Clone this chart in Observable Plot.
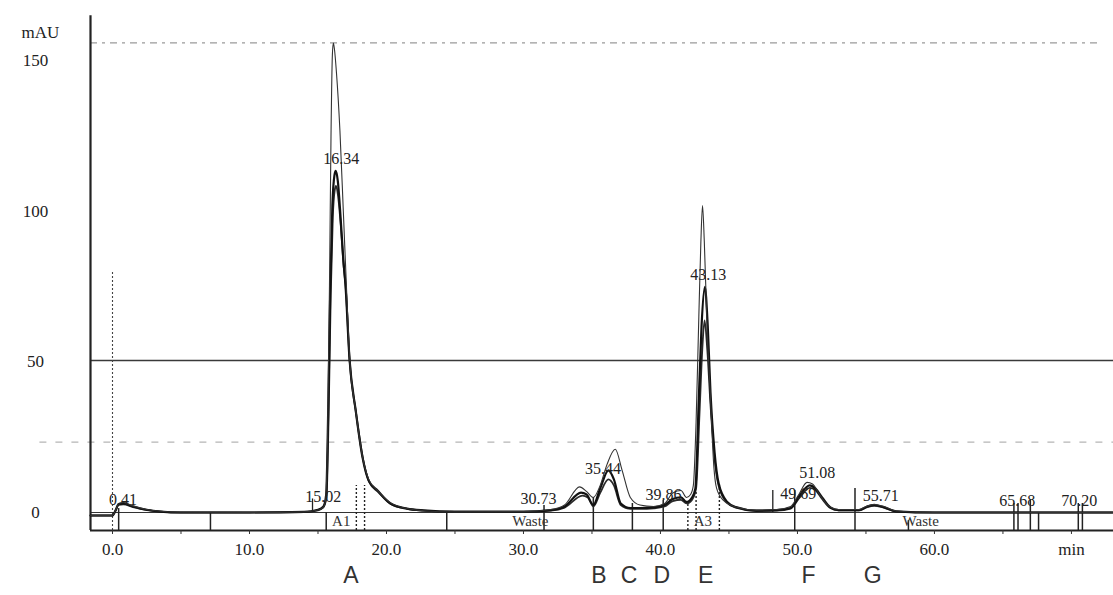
<!DOCTYPE html>
<html>
<head>
<meta charset="utf-8">
<script src="https://cdn.jsdelivr.net/npm/d3@7"></script>
<script src="https://cdn.jsdelivr.net/npm/@observablehq/plot@0.6"></script>
<style>
  html, body { margin: 0; padding: 0; background: #fff; }
  #chart svg { display: block; overflow: visible; }
</style>
</head>
<body>
<div id="chart"></div>
<script>
// Time axis (min) and absorbance axis (mAU)
const timeDomain = [-1.606, 73.07];
const mauDomain = [-5.98, 170.1];
const timeTicks = [0, 10, 20, 30, 40, 50, 60, 70];
const timeTickLabels = ["0.0", "10.0", "20.0", "30.0", "40.0", "50.0", "60.0", "min"];
const minorTimeTicks = [0, 5, 10, 15, 20, 25, 30, 35, 40, 45, 50, 55, 60, 65, 70];
const mauTicks = [0, 50, 100, 150];

// Detector traces: [time (min), absorbance (mAU)]
const traceThin = [
  [-1.6, -1], [0, -1], [0.2, 0.5], [0.45, 3], [0.8, 3.3], [1.5, 2.2], [2.5, 1], [3.5, 0.4], [5, 0.1],
  [10, 0], [14, 0.2], [15, 0.8], [15.4, 1.8], [15.55, 4], [15.7, 25], [15.85, 80], [15.95, 125],
  [16.05, 152], [16.12, 156], [16.2, 154], [16.35, 146], [16.6, 127], [16.85, 100], [17.05, 78],
  [17.3, 52], [17.75, 34], [18.25, 18.5], [18.7, 11], [19.3, 7.5], [20.3, 3.2], [21.5, 1.3],
  [22.7, 0.6], [25, 0.2], [30, 0.3], [32, 1], [33, 2.5], [34.1, 8.5], [34.6, 7], [35.1, 5],
  [35.6, 9], [36.1, 16], [36.7, 21], [37.2, 14], [37.8, 5], [38.5, 2.5], [39.5, 2], [40.3, 3],
  [40.9, 6.5], [41.5, 7.3], [41.9, 5], [42.2, 6], [42.4, 9], [42.6, 30], [42.8, 65], [42.95, 90],
  [43.07, 102], [43.2, 90], [43.4, 62], [43.65, 38], [43.9, 15], [44.1, 8], [44.6, 4], [45.5, 1.8],
  [47, 0.8], [48.5, 1], [49.5, 2], [50.1, 6], [50.7, 10], [51.1, 9.5], [51.6, 6], [52.2, 2.5],
  [53, 1], [54.5, 1], [55, 2], [55.6, 2.7], [56.3, 2], [57.2, 0.5], [60, 0], [73, 0]
];
const traceBold = [
  [-1.6, -1], [0, -1], [0.2, 0.5], [0.45, 2.8], [0.8, 3], [1.5, 2], [2.5, 0.9], [3.5, 0.3], [5, 0],
  [10, 0], [14, 0.2], [15, 0.9], [15.4, 2], [15.6, 6], [15.75, 35], [15.9, 75], [16.05, 102],
  [16.2, 112], [16.3, 113.5], [16.45, 110], [16.65, 98], [16.85, 84], [17, 76], [17.3, 51],
  [17.75, 34], [18.25, 18.3], [18.7, 10.6], [19.35, 7.3], [20.3, 3], [21.5, 1.3], [22.7, 0.7],
  [25, 0.3], [30, 0.3], [32, 0.8], [33, 2], [34.2, 6.6], [34.6, 6], [35.1, 2.5], [35.6, 8],
  [36.2, 14], [36.6, 11], [37.1, 3], [37.8, 1.5], [38.5, 1.5], [39.5, 1.7], [40.3, 2.5],
  [40.9, 4.5], [41.5, 5], [41.9, 3.5], [42.3, 5], [42.55, 8], [42.8, 38], [43, 62], [43.24, 75],
  [43.45, 62], [43.65, 40], [43.95, 20], [44.25, 9.6], [44.87, 3.5], [45.5, 1.8], [47, 0.6],
  [48.5, 0.8], [49.5, 1.5], [50.2, 6], [50.9, 9], [51.3, 8], [51.8, 5], [52.4, 1.7], [53, 0.8],
  [54.5, 0.8], [55.1, 2], [55.6, 2.5], [56.3, 1.8], [57.2, 0.4], [60, 0], [73, 0]
];
const traceMid = [
  [-1.6, -1], [0, -1], [0.2, 0.4], [0.45, 2.5], [0.8, 2.7], [1.5, 1.8], [2.5, 0.8], [3.5, 0.3], [5, 0],
  [10, 0], [14, 0.1], [15, 0.7], [15.4, 1.8], [15.62, 5], [15.78, 33], [15.93, 72], [16.08, 98],
  [16.22, 107], [16.32, 108.5], [16.47, 105], [16.67, 95], [16.87, 82], [17.02, 75], [17.32, 50],
  [17.78, 33], [18.3, 17.5], [18.75, 10], [19.4, 6.8], [20.3, 2.8], [21.5, 1.2], [22.7, 0.6],
  [25, 0.2], [30, 0.2], [32, 0.6], [33, 1.6], [34.3, 5.6], [34.7, 5], [35.1, 2], [35.6, 6.5],
  [36.2, 11], [36.6, 9], [37.1, 2.5], [37.8, 1.2], [38.5, 1.2], [39.5, 1.4], [40.3, 2],
  [40.9, 3.8], [41.5, 4.2], [41.9, 3], [42.3, 4.2], [42.6, 8], [42.85, 33], [43.05, 54], [43.22, 63.8],
  [43.42, 54], [43.65, 36], [43.95, 18], [44.25, 8.8], [44.87, 3.2], [45.5, 1.6], [47, 0.5],
  [48.5, 0.6], [49.5, 1.3], [50.2, 5.2], [50.9, 8.2], [51.3, 7.5], [51.8, 4.5], [52.4, 1.5], [53, 0.7],
  [54.5, 0.7], [55.1, 1.8], [55.6, 2.2], [56.3, 1.6], [57.2, 0.3], [60, 0], [73, 0]
];

// Reference levels (mAU)
const upperLevel = 156;
const markLevel = 50.5;
const lowerLevel = 23.4;

// Integrated peaks: retention time, reported height (mAU)
const peakTimes = [0.41, 15.02, 16.34, 30.73, 35.44, 39.86, 43.13, 49.69, 51.08, 55.71, 65.68, 70.20];
const peakHeights = [0.3, 1.3, 113.5, 0.6, 10.6, 2, 75, 2.3, 9.3, 1.6, 0, 0];

// Fraction-collector events: [time (min), top of marker (mAU)]
const eventSolid = [
  [0.45, 1.3], [7.15, 0], [15.6, 0], [24.4, 0], [31.5, 2.3], [35.1, 5], [37.95, 3], [40.2, 4],
  [49.8, 7.3], [54.2, 8], [58.1, -2.7], [65.8, 3], [66.1, 3], [67.0, 4], [67.6, 0], [70.5, 3], [70.8, 3]
];
const eventDashed = [[17.8, 9], [18.4, 9], [42.0, 3.3], [42.6, 7], [44.3, 9.6]];
const peakStartMarks = [[48.2, 7.3], [14.6, 4.5]];

// Collection segments inside the event bar
const segmentLabels = ["A1", "Waste", "A3", "Waste"];
const segmentTimes = [16.7, 30.5, 43.1, 59.0];

// Collected fractions
const fractionLetters = ["A", "B", "C", "D", "E", "F", "G"];
const fractionTimes = [17.4, 35.5, 37.7, 40.1, 43.3, 50.8, 55.5];

const serif = "'Liberation Serif', 'DejaVu Serif', serif";
const ink = "#222";

const chart = Plot.plot({
  width: 1113,
  height: 595,
  marginLeft: 90,
  marginRight: 0,
  marginTop: 0,
  marginBottom: 65,
  x: {domain: timeDomain},
  y: {domain: mauDomain},
  style: {fontFamily: serif, color: ink, background: "#fff"},
  marks: [
    // reference levels
    Plot.ruleY([upperLevel], {x1: timeDomain[0], x2: 72.2, stroke: "#9a9a9a", strokeWidth: 1.3, strokeDasharray: "7,5,3,5"}),
    Plot.ruleY([markLevel], {x1: timeDomain[0], x2: timeDomain[1], stroke: "#3a3a3a", strokeWidth: 1.6}),
    Plot.ruleY([lowerLevel], {x1: -5.3, x2: timeDomain[1], stroke: "#b5b5b5", strokeWidth: 1.2, strokeDasharray: "7,9"}),
    // injection marker at t = 0
    Plot.ruleX([0], {y1: mauDomain[0], y2: 80, stroke: "#444", strokeWidth: 1.1, strokeDasharray: "2,2"}),
    // event bar: baseline and axis line
    Plot.ruleY([0], {x1: timeDomain[0], x2: 71.5, stroke: "#333", strokeWidth: 1.2}),
    Plot.ruleY([mauDomain[0]], {x1: timeDomain[0], x2: timeDomain[1], stroke: "#222", strokeWidth: 2}),
    Plot.ruleX([timeDomain[0]], {y1: mauDomain[0], y2: 165, stroke: "#222", strokeWidth: 2.2}),
    // event markers
    Plot.ruleX(eventSolid, {x: d => d[0], y1: mauDomain[0], y2: d => d[1], stroke: "#222", strokeWidth: 1.5}),
    Plot.ruleX(eventDashed, {x: d => d[0], y1: mauDomain[0], y2: d => d[1], stroke: "#222", strokeWidth: 1.4, strokeDasharray: "2,2"}),
    Plot.ruleX(peakStartMarks, {x: d => d[0], y1: 0, y2: d => d[1], stroke: "#222", strokeWidth: 1.3}),
    // traces
    Plot.line(traceMid, {x: d => d[0], y: d => d[1], stroke: "#2a2a2a", strokeWidth: 1.8, curve: "monotone-x"}),
    Plot.line(traceBold, {x: d => d[0], y: d => d[1], stroke: "#111", strokeWidth: 2.2, curve: "monotone-x"}),
    Plot.line(traceThin, {x: d => d[0], y: d => d[1], stroke: "#333", strokeWidth: 1.1, curve: "monotone-x"}),
    // peak retention-time labels
    Plot.text(peakTimes, {
      x: d => d, y: (d, i) => peakHeights[i], text: d => d.toFixed(2),
      dx: 5, dy: -12, fontSize: 16, fill: ink, lineAnchor: "middle"
    }),
    // segment labels in the event bar
    Plot.text(segmentLabels, {
      x: (d, i) => segmentTimes[i], text: d => d, frameAnchor: "bottom", dy: -9,
      fontSize: 15, fill: "#333", lineAnchor: "middle"
    }),
    // axes
    Plot.axisX({ticks: minorTimeTicks, tickSize: 4, tickFormat: () => "", stroke: "#333"}),
    Plot.axisX({
      ticks: timeTicks, tickSize: 0, tickPadding: 12, fontSize: 17,
      tickFormat: d => timeTickLabels[timeTicks.indexOf(d)]
    }),
    Plot.axisY({ticks: mauTicks, tickSize: 0, tickPadding: 55, textAnchor: "middle", fontSize: 17, tickFormat: d => String(d)}),
    Plot.text(["mAU"], {
      frameAnchor: "top-left", dx: -50, dy: 32, fontSize: 17, fill: ink,
      textAnchor: "middle", lineAnchor: "middle"
    }),
    // fraction letters under the axis
    Plot.text(fractionLetters, {
      x: (d, i) => fractionTimes[i], text: d => d, frameAnchor: "bottom", dy: 45,
      fontSize: 23, fill: "#333", lineAnchor: "middle",
      fontFamily: "'Liberation Sans', Arial, sans-serif"
    })
  ]
});

document.getElementById("chart").appendChild(chart);
</script>
</body>
</html>
